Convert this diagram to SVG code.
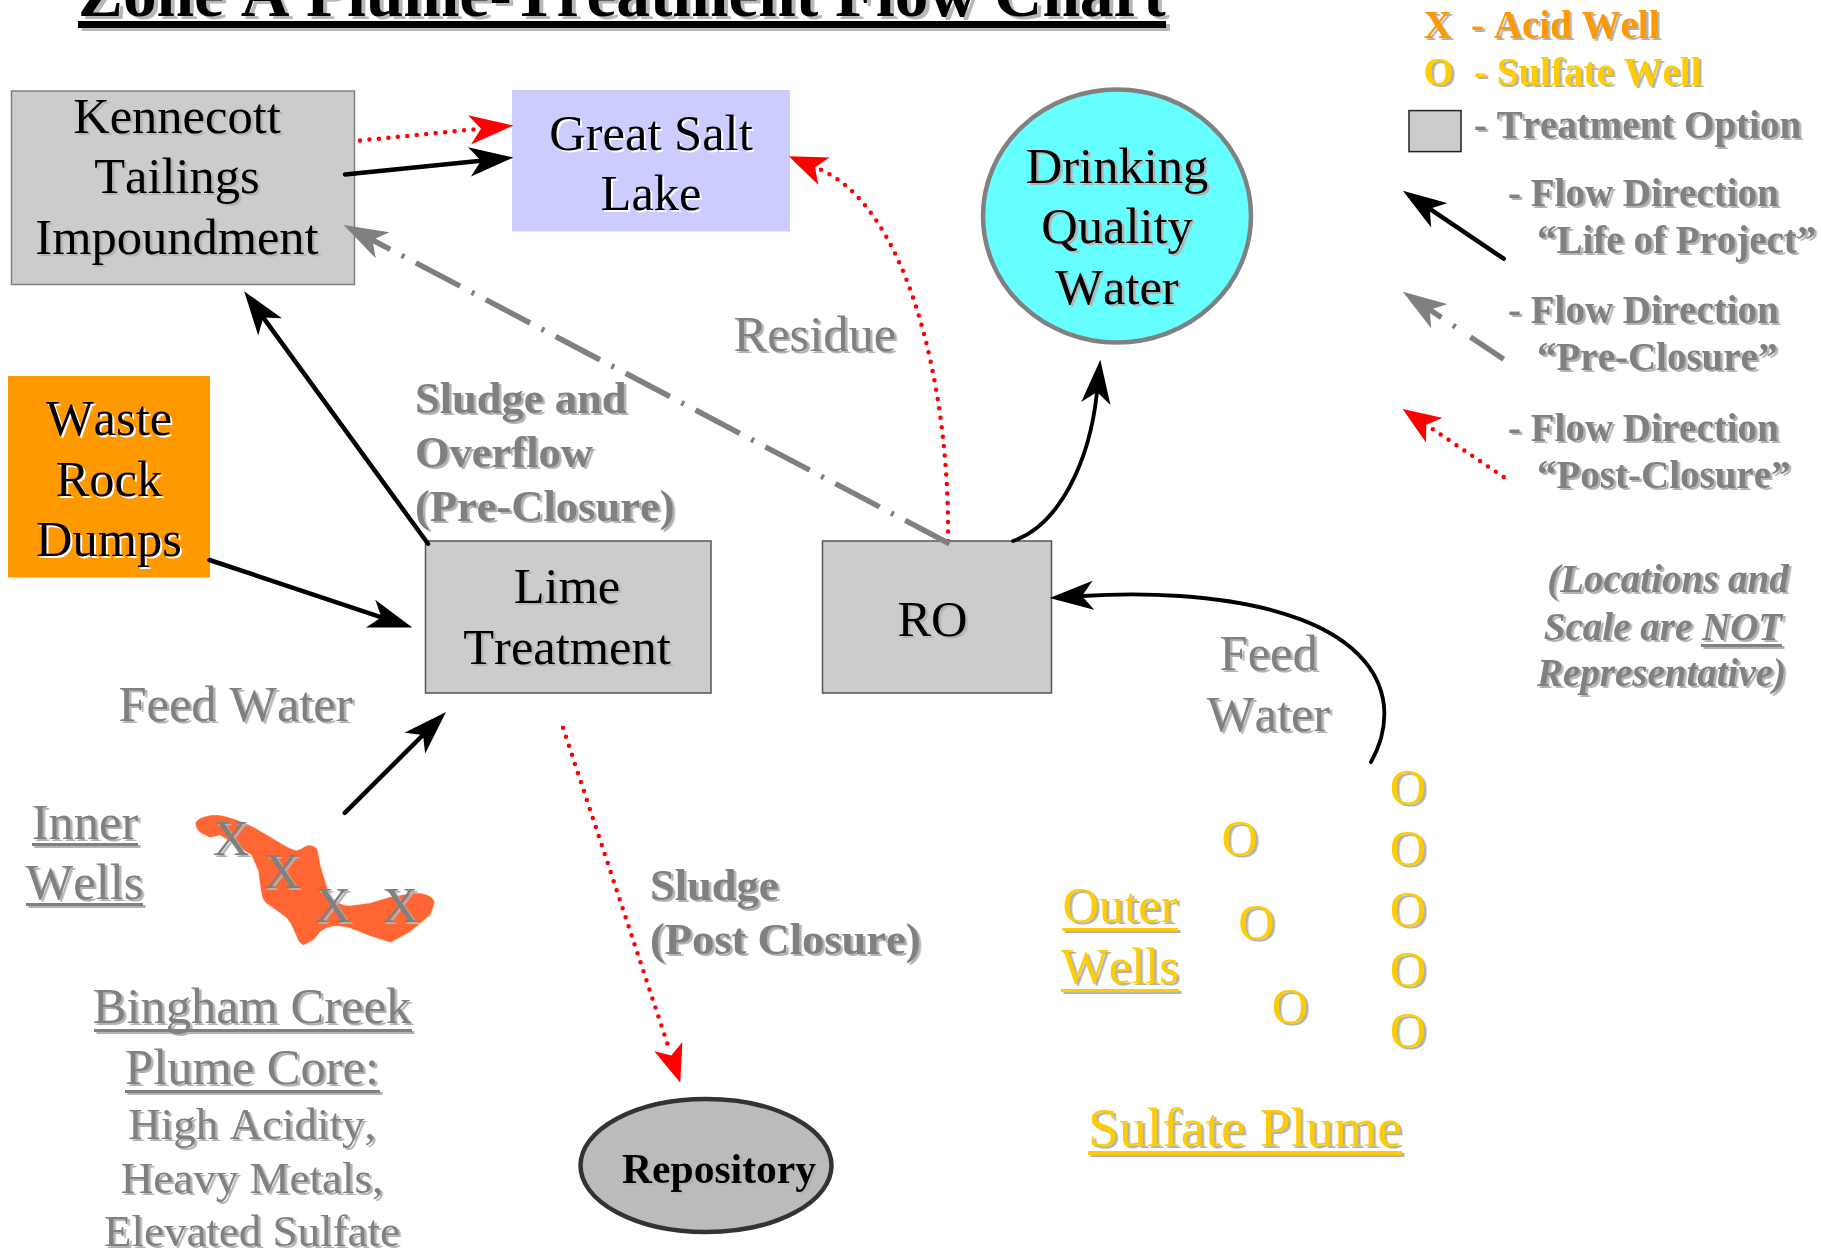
<svg xmlns="http://www.w3.org/2000/svg" width="1821" height="1252" viewBox="0 0 1821 1252">
<style>
text{font-family:"Liberation Serif","Times New Roman",serif;font-size:50.5px;fill:#000;font-kerning:none}
.m{text-anchor:middle}
.gy{fill:#808080}.or{fill:#ff9900}.ye{fill:#ffcc00}
.b{font-weight:bold}
.b45{font-weight:bold;font-size:44.5px}
.r45{font-size:45px}
.lg{font-weight:bold;font-size:39px}
.it{font-weight:bold;font-style:italic;font-size:39px}
.sh{filter:url(#shadow)}
.shw{filter:url(#shadowW)}
.box{fill:#cccccc;stroke:#555555;stroke-width:1.5}
.k{fill:none;stroke:#000;stroke-width:4.5;stroke-linecap:round;marker-end:url(#ak)}
.kc{fill:none;stroke:#000;stroke-width:3.8;stroke-linecap:round;marker-end:url(#ak)}
.g{fill:none;stroke:#808080;stroke-width:5.5;stroke-dasharray:50 13 3 13;marker-end:url(#ag)}
.d{fill:none;stroke:#ff0000;stroke-width:4.5;stroke-linecap:round;stroke-dasharray:0 9.5;marker-end:url(#ar)}
.ds{fill:none;stroke:#ff0000;stroke-width:4.5;stroke-linecap:round;stroke-dasharray:0 9.5;marker-end:url(#as)}
</style>
<defs>
<filter id="shadow" x="-10%" y="-20%" width="120%" height="140%" color-interpolation-filters="sRGB"><feDropShadow dx="2.5" dy="2" stdDeviation="0.3" flood-color="#b2b2b2"/></filter>
<filter id="shadowW" x="-10%" y="-20%" width="120%" height="140%" color-interpolation-filters="sRGB"><feDropShadow dx="2" dy="2" stdDeviation="0.2" flood-color="#ffffff"/></filter>
<marker id="ak" markerUnits="userSpaceOnUse" markerWidth="44" markerHeight="30" viewBox="0 0 42 28" refX="11" refY="14" orient="auto"><path d="M42 14L0 0L11 14L0 28Z" fill="#000"/></marker>
<marker id="ag" markerUnits="userSpaceOnUse" markerWidth="44" markerHeight="30" viewBox="0 0 42 28" refX="11" refY="14" orient="auto"><path d="M42 14L0 0L11 14L0 28Z" fill="#808080"/></marker>
<marker id="ar" markerUnits="userSpaceOnUse" markerWidth="44" markerHeight="30" viewBox="0 0 42 28" refX="11" refY="14" orient="auto"><path d="M42 14L0 0L11 14L0 28Z" fill="#ff0000"/></marker>
<marker id="as" markerUnits="userSpaceOnUse" markerWidth="38" markerHeight="30" viewBox="0 0 36 28" refX="5" refY="14" orient="auto"><path d="M36 14L0 0L9 14L0 28Z" fill="#ff0000"/></marker>
</defs>
<rect width="1821" height="1252" fill="#fff"/>

<g id="title" style="filter:drop-shadow(4px 3px 0 #b8b8b8)">
<text x="78" y="15.500" class="b" style="font-size:67.3px">Zone A Plume-Treatment Flow Chart</text>
<rect x="78" y="21" width="1088" height="7"/>
</g>

<g id="kennecott"><rect x="11.5" y="91" width="343" height="193.5" fill="#cccccc" stroke="#808080" stroke-width="1.5"/>
<g class="sh"><text x="177" y="132.5" class="m">Kennecott</text><text x="177" y="193" class="m">Tailings</text><text x="177" y="253.5" class="m">Impoundment</text></g></g>

<g id="great-salt-lake"><rect x="512" y="90" width="278" height="141.5" fill="#ccccff"/>
<g class="shw"><text x="651" y="149.7" class="m">Great Salt</text><text x="651" y="209.6" class="m">Lake</text></g></g>

<g id="drinking-water"><ellipse cx="1117" cy="216" rx="134" ry="126.5" fill="#66ffff" stroke="#808080" stroke-width="4.5"/>
<g class="sh"><text x="1117" y="182.8" class="m">Drinking</text><text x="1117" y="242.7" class="m">Quality</text><text x="1117" y="304" class="m">Water</text></g></g>

<g id="waste-rock"><rect x="8" y="376" width="202" height="201.5" fill="#ff9900"/>
<g class="shw"><text x="109" y="435" class="m">Waste</text><text x="109" y="496" class="m">Rock</text><text x="109" y="556" class="m">Dumps</text></g></g>

<g id="lime-treatment"><rect x="425.5" y="541" width="285.5" height="152" class="box"/>
<g class="sh"><text x="567" y="603" class="m">Lime</text><text x="567" y="664" class="m">Treatment</text></g></g>

<g id="ro"><rect x="822.5" y="541" width="229" height="152" class="box"/>
<g class="sh"><text x="932.5" y="636" class="m">RO</text></g></g>

<g id="repository"><ellipse cx="706" cy="1165.500" rx="125.500" ry="66.500" fill="#bbbbbb" stroke="#333333" stroke-width="4.5"/>
<g class="sh"><text x="622" y="1183" class="b" style="font-size:41.6px">Repository</text></g></g>

<g id="plume-core">
<path fill="#ff6633" stroke="#ff6633" stroke-width="1" stroke-linejoin="round" transform="translate(170 790) scale(.33333)" d="M77 100C80 90 95 80 120 77C135 75 150 75 170 81L200 90L250 112L290 135L340 165Q365 180 380 182Q395 178 405 170Q415 165 425 167Q440 172 442 180L450 225L470 290Q478 315 490 330Q515 348 540 348L600 340L660 322L730 310Q755 308 770 315Q788 322 793 335Q790 355 780 375L720 425L662 457L600 437L540 413Q510 405 490 408Q465 412 450 425L430 450L400 465L388 455L365 405Q355 385 340 375L290 340Q278 330 275 310L265 240L245 195L200 165L150 135L120 142L95 130Q78 120 77 100Z"/>
<g class="sh">
<text x="231" y="855" class="m gy">X</text><text x="282" y="888" class="m gy">X</text><text x="333" y="922" class="m gy">X</text><text x="400" y="922" class="m gy">X</text>
<text x="85" y="838.500" class="m gy">Inner</text><rect x="32" y="843" width="106" height="3" fill="#808080"/>
<text x="84.500" y="899" class="m gy">Wells</text><rect x="26" y="903" width="117" height="3" fill="#808080"/>
<text x="252" y="1023" class="m gy">Bingham Creek</text><rect x="94" y="1029" width="318" height="3" fill="#808080"/>
<text x="252" y="1083.500" class="m gy">Plume Core:</text><rect x="125" y="1090" width="255" height="3" fill="#808080"/>
<text x="252" y="1138.500" class="m gy r45">High Acidity,</text>
<text x="252" y="1192.500" class="m gy r45">Heavy Metals,</text>
<text x="252" y="1246" class="m gy r45">Elevated Sulfate</text>
<text x="235.500" y="720.500" class="m gy">Feed Water</text>
</g></g>

<g id="labels"><g class="sh">
<text x="733.500" y="351" class="gy">Residue</text>
<text x="415" y="412.500" class="gy b45">Sludge and</text>
<text x="415" y="466.500" class="gy b45">Overflow</text>
<text x="415" y="521" class="gy b45">(Pre-Closure)</text>
<text x="650" y="900" class="gy b45">Sludge</text>
<text x="650" y="953.500" class="gy b45">(Post Closure)</text>
<text x="1268.700" y="670" class="m gy">Feed</text>
<text x="1268.500" y="731" class="m gy">Water</text>
</g></g>

<g id="sulfate-plume"><g class="sh">
<text x="1408" y="804.400" class="m ye">O</text><text x="1408" y="865" class="m ye">O</text><text x="1408" y="925.500" class="m ye">O</text><text x="1408" y="986" class="m ye">O</text><text x="1408" y="1046.500" class="m ye">O</text>
<text x="1239.700" y="855" class="m ye">O</text><text x="1256.500" y="939" class="m ye">O</text><text x="1290" y="1023" class="m ye">O</text>
<text x="1120" y="922" class="m ye">Outer</text><rect x="1062.500" y="928" width="115.500" height="3" fill="#ffcc00"/>
<text x="1120" y="983" class="m ye">Wells</text><rect x="1061" y="989" width="118" height="3" fill="#ffcc00"/>
<text x="1245" y="1145.500" class="m ye" style="font-size:55.700px">Sulfate Plume</text><rect x="1088" y="1151" width="314" height="4" fill="#ffcc00"/>
</g></g>

<g id="legend">
<rect x="1409" y="110.600" width="52" height="41" fill="#cccccc" stroke="#222" stroke-width="1.500"/>
<g class="sh">
<text x="1423.600" y="38" class="lg or">X</text><text x="1471" y="38" class="lg or">- Acid Well</text>
<text x="1423.600" y="84.600" class="lg ye">O</text><text x="1474" y="84.600" class="lg ye">- Sulfate Well</text>
<text x="1474" y="137.700" class="lg gy">- Treatment Option</text>
<text x="1508" y="205.600" class="lg gy">- Flow Direction</text><text x="1537" y="252.800" class="lg gy">“Life of Project”</text>
<text x="1508" y="322.600" class="lg gy">- Flow Direction</text><text x="1537" y="370" class="lg gy">“Pre-Closure”</text>
<text x="1508" y="441" class="lg gy">- Flow Direction</text><text x="1537" y="487.500" class="lg gy">“Post-Closure”</text>
<text x="1668" y="591.600" class="it m gy">(Locations and</text>
<text x="1663" y="640" class="it m gy">Scale are NOT</text><rect x="1701" y="644" width="81" height="3" fill="#808080"/>
<text x="1661.500" y="686" class="it m gy">Representative)</text>
</g>
<path class="k" d="M1503.700 258.700L1429.800 208.800"/>
<path class="g" style="stroke-dasharray:40 18 3 14" d="M1503.700 359.300L1429.800 309.800"/>
<path class="ds" d="M1503.700 477L1429.800 427.200"/>
</g>

<g id="connectors">
<path class="d" d="M360 140.500L481 128.700"/>
<path class="k" d="M345 174.400L481 160.800"/>
<path class="ds" d="M948 541C950 380 905 205 819 169"/>
<path class="g" d="M949.500 543.700L372.400 240"/>
<path class="k" d="M428 543.700L263.300 317.600"/>
<path class="k" d="M209.500 560L381.500 617.300"/>
<path class="k" d="M344.800 812.800L423 735"/>
<path class="kc" d="M1013 541C1060 525 1090 460 1097 392"/>
<path class="kc" d="M1371 762C1406 700 1382 610 1180 596C1150 594 1115 594 1082 596"/>
<path class="ds" d="M563 727.800L670 1051.600"/>
</g>
</svg>
